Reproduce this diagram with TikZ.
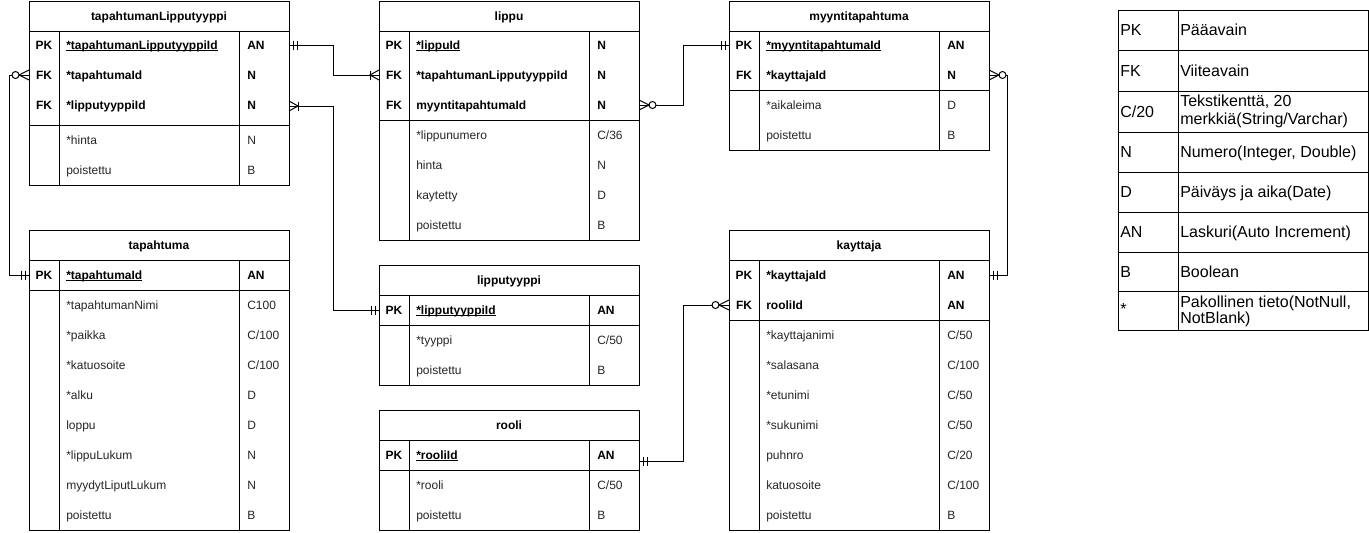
\documentclass[tikz,border=0pt]{standalone}
\usepackage{fontspec}
\setmainfont{Liberation Sans}
\newcommand\uln[1]{\setbox0\hbox{#1}\rlap{\rule[-1.1pt]{\wd0}{0.55pt}}\box0}
\tikzset{
  tline/.style={line width=0.75pt, draw=black},
  ttitle/.style={font=\bfseries\fontsize{9}{11}\selectfont, inner sep=0pt, anchor=base},
  keyt/.style={font=\bfseries\fontsize{9}{11}\selectfont, inner sep=0pt, anchor=base},
  keyf/.style={font=\bfseries\fontsize{9}{11}\selectfont, inner sep=0pt, anchor=base west},
  plainf/.style={font=\fontsize{9}{11}\selectfont, text=black!85, inner sep=0pt, anchor=base west},
  legt/.style={font=\fontsize{12}{13.5}\selectfont, inner sep=0pt, anchor=base west},
}
% table frame: name, L, T, B, divider y, title
\newcommand\ertbl[6]{%
  \draw[tline] (#2,#3) rectangle (#2+260,#4);
  \draw[tline] (#2,#3+30) -- (#2+260,#3+30);
  \draw[tline] (#2,#5) -- (#2+260,#5);
  \draw[tline] (#2+30,#3+30) -- (#2+30,#4);
  \draw[tline] (#2+210,#3+30) -- (#2+210,#4);
  \node[ttitle] (#1title) at (#2+130,#3+19.3) {#6};
}
% key row: name, L, y, key, field, type
\newcommand\krow[6]{%
  \node[keyt] (#1k) at (#2+15,#3+4.3) {#4};
  \node[keyf] (#1f) at (#2+37,#3+4.3) {#5};
  \node[keyf] (#1t) at (#2+218,#3+4.3) {#6};
}
% plain row: name, L, y, field, type
\newcommand\frow[5]{%
  \node[plainf] (#1f) at (#2+37,#3+4.3) {#4};
  \node[plainf] (#1t) at (#2+218,#3+4.3) {#5};
}
% markers: coordinate, sign (+1: line leaves to the right)
\newcommand\mandone[2]{%
  \draw[tline,shift={(#1)}] (#2*4,-4.5) -- (#2*4,4.5);
  \draw[tline,shift={(#1)}] (#2*8,-4.5) -- (#2*8,4.5);
}
\newcommand\onemany[2]{%
  \draw[tline,shift={(#1)}] (0,-5) -- (#2*9,0) -- (0,5);
  \draw[tline,shift={(#1)}] (#2*9,-4.5) -- (#2*9,4.5);
}
\newcommand\zeromany[2]{%
  \draw[tline,shift={(#1)}] (0,-5) -- (#2*10,0) -- (0,5);
  \draw[tline,fill=white,shift={(#1)}] (#2*13.5,0) circle[radius=3.5];
}
\begin{document}
\begin{tikzpicture}[x=0.75pt,y=-0.75pt]
\useasboundingbox[fill=white] (0,0) rectangle (1369,532);

% ---------- connector end points ----------
\coordinate (tltPK)  at (289,45);
\coordinate (lipFK1) at (379,75);
\coordinate (tltFK2) at (289,106);
\coordinate (ltPK)   at (379,310);
\coordinate (tltFK1) at (29,75);
\coordinate (tapPK)  at (29,275);
\coordinate (lipFK2) at (639,105);
\coordinate (myyPK)  at (729,45);
\coordinate (myyFK)  at (989,75);
\coordinate (kayPK)  at (989,275);
\coordinate (kayFK)  at (729,305);
\coordinate (rooPK)  at (639,461);

% ---------- connectors ----------
\draw[tline] (tltPK) -- ++(44,0) |- (lipFK1);
\draw[tline] (tltFK2) -- ++(44,0) |- (ltPK);
\draw[tline] (tltFK1) -- ++(-20,0) |- (tapPK);
\draw[tline] (lipFK2) -- ++(44,0) |- (myyPK);
\draw[tline] (myyFK) -- ++(18,0) |- (kayPK);
\draw[tline] (kayFK) -- ++(-46,0) |- (rooPK);

\mandone{tltPK}{1}   \onemany{lipFK1}{-1}
\onemany{tltFK2}{1}  \mandone{ltPK}{-1}
\zeromany{tltFK1}{-1} \mandone{tapPK}{-1}
\zeromany{lipFK2}{1} \mandone{myyPK}{-1}
\zeromany{myyFK}{1}  \mandone{kayPK}{1}
\zeromany{kayFK}{-1} \mandone{rooPK}{1}

% ---------- tapahtumanLipputyyppi ----------
\ertbl{tlt}{29}{1}{185}{125}{tapahtumanLipputyyppi}
\krow{tltA}{29}{45}{PK}{\uln{*tapahtumanLipputyyppiId}}{AN}
\krow{tltB}{29}{75}{FK}{*tapahtumaId}{N}
\krow{tltC}{29}{105}{FK}{*lipputyyppiId}{N}
\frow{tltD}{29}{140}{*hinta}{N}
\frow{tltE}{29}{170}{poistettu}{B}

% ---------- lippu ----------
\ertbl{lip}{379}{1}{240}{120}{lippu}
\krow{lipA}{379}{45}{PK}{\uln{*lippuId}}{N}
\krow{lipB}{379}{75}{FK}{*tapahtumanLipputyyppiId}{N}
\krow{lipC}{379}{105}{FK}{myyntitapahtumaId}{N}
\frow{lipD}{379}{135}{*lippunumero}{C/36}
\frow{lipE}{379}{165}{hinta}{N}
\frow{lipF}{379}{195}{kaytetty}{D}
\frow{lipG}{379}{225}{poistettu}{B}

% ---------- myyntitapahtuma ----------
\ertbl{myy}{729}{1}{150}{90}{myyntitapahtuma}
\krow{myyA}{729}{45}{PK}{\uln{*myyntitapahtumaId}}{AN}
\krow{myyB}{729}{75}{FK}{*kayttajaId}{N}
\frow{myyC}{729}{105}{*aikaleima}{D}
\frow{myyD}{729}{135}{poistettu}{B}

% ---------- tapahtuma ----------
\ertbl{tap}{29}{230}{530}{290}{tapahtuma}
\krow{tapA}{29}{275}{PK}{\uln{*tapahtumaId}}{AN}
\frow{tapB}{29}{305}{*tapahtumanNimi}{C100}
\frow{tapC}{29}{335}{*paikka}{C/100}
\frow{tapD}{29}{365}{*katuosoite}{C/100}
\frow{tapE}{29}{395}{*alku}{D}
\frow{tapF}{29}{425}{loppu}{D}
\frow{tapG}{29}{455}{*lippuLukum}{N}
\frow{tapH}{29}{485}{myydytLiputLukum}{N}
\frow{tapI}{29}{515}{poistettu}{B}

% ---------- lipputyyppi ----------
\ertbl{lt}{379}{265}{385}{325}{lipputyyppi}
\krow{ltA}{379}{310}{PK}{\uln{*lipputyyppiId}}{AN}
\frow{ltB}{379}{340}{*tyyppi}{C/50}
\frow{ltC}{379}{370}{poistettu}{B}

% ---------- rooli ----------
\ertbl{roo}{379}{410}{530}{470}{rooli}
\krow{rooA}{379}{455}{PK}{\uln{*rooliId}}{AN}
\frow{rooB}{379}{485}{*rooli}{C/50}
\frow{rooC}{379}{515}{poistettu}{B}

% ---------- kayttaja ----------
\ertbl{kay}{729}{230}{530}{320}{kayttaja}
\krow{kayA}{729}{275}{PK}{*kayttajaId}{AN}
\krow{kayB}{729}{305}{FK}{rooliId}{AN}
\frow{kayC}{729}{335}{*kayttajanimi}{C/50}
\frow{kayD}{729}{365}{*salasana}{C/100}
\frow{kayE}{729}{395}{*etunimi}{C/50}
\frow{kayF}{729}{425}{*sukunimi}{C/50}
\frow{kayG}{729}{455}{puhnro}{C/20}
\frow{kayH}{729}{485}{katuosoite}{C/100}
\frow{kayI}{729}{515}{poistettu}{B}

% ---------- legend ----------
\draw[tline] (1118,10) rectangle (1368,330);
\draw[tline] (1178,10) -- (1178,330);
\foreach \yy in {50,91,132,172,212,252,291} {
  \draw[tline] (1118,\yy) -- (1368,\yy);
}
\node[legt] (lg1a) at (1120,35.7) {PK};
\node[legt] (lg1b) at (1180,35.7) {Pääavain};
\node[legt] (lg2a) at (1120,76.2) {FK};
\node[legt] (lg2b) at (1180,76.2) {Viiteavain};
\node[legt] (lg3a) at (1120,117.2) {C/20};
\node[legt] (lg3b) at (1180,106.5) {Tekstikenttä, 20};
\node[legt] (lg3c) at (1180,124.2) {merkkiä(String/Varchar)};
\node[legt] (lg4a) at (1120,157.7) {N};
\node[legt] (lg4b) at (1180,157.7) {Numero(Integer, Double)};
\node[legt] (lg5a) at (1120,197.7) {D};
\node[legt] (lg5b) at (1180,197.7) {Päiväys ja aika(Date)};
\node[legt] (lg6a) at (1120,237.7) {AN};
\node[legt] (lg6b) at (1180,237.7) {Laskuri(Auto Increment)};
\node[legt] (lg7a) at (1120,277.2) {B};
\node[legt] (lg7b) at (1180,277.2) {Boolean};
\node[legt] (lg8a) at (1120,314) {*};
\node[legt] (lg8b) at (1180,307.7) {Pakollinen tieto(NotNull,};
\node[legt] (lg8c) at (1180,323.7) {NotBlank)};
\end{tikzpicture}
\end{document}
